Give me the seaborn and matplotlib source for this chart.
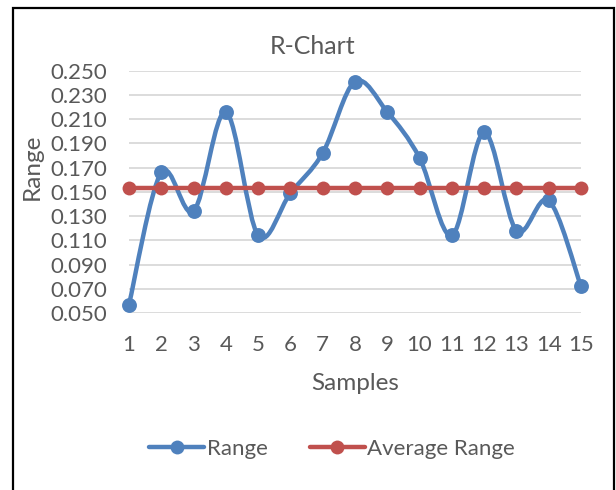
import numpy as np
import pandas as pd
import matplotlib
matplotlib.use("Agg")
import matplotlib.pyplot as plt
from matplotlib.path import Path
from matplotlib.patches import PathPatch, Rectangle
from matplotlib.lines import Line2D
import seaborn as sns

samples = list(range(1, 16))
ranges = [0.057, 0.166, 0.134, 0.216, 0.114, 0.149, 0.182, 0.241,
          0.216, 0.178, 0.114, 0.199, 0.118, 0.143, 0.072]
avg_range = [0.153] * 15
y_ticks = [0.050, 0.070, 0.090, 0.110, 0.130, 0.150, 0.170, 0.190, 0.210, 0.230, 0.250]

BLUE = "#4f81bd"
RED = "#c0504d"
GREY = "#595959"

sns.set_theme(style="white")
plt.rcParams['font.family'] = ['Lato', 'DejaVu Sans']

fig = plt.figure(figsize=(6.16, 4.90), dpi=100)
ax = fig.add_axes([129/616, 1 - 313/490, (581-129)/616, (313-70.7)/490])

df = pd.DataFrame({"Samples": samples, "Range": ranges, "Average Range": avg_range})

# grid
for t in y_ticks:
    ax.axhline(t, color="#d9d9d9", lw=1.3, zorder=0)

# smoothed Excel-like curve (Bezier through data points)
x = np.array(samples, float)
y = np.array(ranges, float)
xp = np.concatenate([[x[0]], x, [x[-1]]])
yp = np.concatenate([[y[0]], y, [y[-1]]])
verts = [(x[0], y[0])]
codes = [Path.MOVETO]
for i in range(len(x) - 1):
    c1 = (x[i] + (xp[i+2] - xp[i]) / 6, y[i] + (yp[i+2] - yp[i]) / 6)
    c2 = (x[i+1] - (xp[i+3] - xp[i+1]) / 6, y[i+1] - (yp[i+3] - yp[i+1]) / 6)
    verts += [c1, c2, (x[i+1], y[i+1])]
    codes += [Path.CURVE4] * 3
ax.add_patch(PathPatch(Path(verts, codes), facecolor="none", edgecolor=BLUE,
                       lw=3.2, capstyle="round", joinstyle="round", zorder=2,
                       clip_on=False))
sns.scatterplot(data=df, x="Samples", y="Range", ax=ax, color=BLUE, s=115,
                edgecolor=BLUE, linewidth=0, zorder=3, legend=False, clip_on=False)

sns.lineplot(data=df, x="Samples", y="Average Range", ax=ax, color=RED, lw=3.2,
             marker="o", markersize=10, markeredgewidth=0, zorder=4, legend=False,
             clip_on=False)

ax.set_xlim(1, 15)
ax.set_ylim(0.05, 0.25)
ax.set_xticks(samples)
ax.set_xticklabels([str(s) for s in samples])
ax.set_yticks(y_ticks)
ax.set_yticklabels([f"{t:.3f}" for t in y_ticks])
ax.tick_params(axis="both", length=0, labelsize=16, labelcolor=GREY)
ax.tick_params(axis="x", pad=16)
ax.tick_params(axis="y", pad=16)
for s in ax.spines.values():
    s.set_visible(False)
ax.set_xlabel("Samples", fontsize=17.5, color=GREY)
ax.xaxis.set_label_coords(0.5, -(383 - 313) / 242.3)
ax.xaxis.label.set_va("center")
ax.set_ylabel("Range", fontsize=17.5, color=GREY)
ax.yaxis.set_label_coords((43 - 129) / 452, (313 - 167) / 242.3)
ax.patch.set_alpha(0)

fig.text(313/616, 1 - 46/490, "R-Chart", ha="center", va="center",
         fontsize=18, color=GREY)

handles = [Line2D([], [], color=BLUE, lw=3.2, marker="o", markersize=10, markeredgewidth=0),
           Line2D([], [], color=RED, lw=3.2, marker="o", markersize=10, markeredgewidth=0)]
fig.legend(handles, ["Range", "Average Range"], loc="center",
           bbox_to_anchor=(332/616, 1 - 449/490), ncol=2, frameon=False,
           fontsize=16, labelcolor=GREY, handlelength=2.5, handletextpad=0.1,
           columnspacing=1.9)

fig.add_artist(Rectangle((13/616, -0.05), (614-13)/616, (0.05 + 1 - 8/490),
                         transform=fig.transFigure, fill=False, edgecolor="black",
                         lw=1.6))

fig.savefig("out.png", dpi=100)
